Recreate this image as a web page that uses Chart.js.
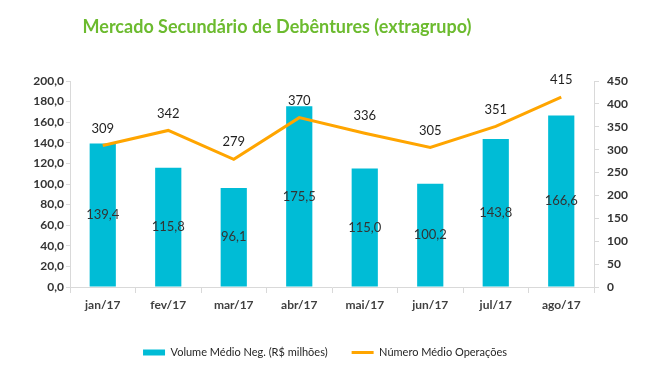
<!DOCTYPE html>
<html>
<head>
<meta charset="utf-8">
<script src="https://cdn.jsdelivr.net/npm/chart.js@4.4.0/dist/chart.umd.min.js"></script>
<style>
  body { margin: 0; background: #fff; }
  #wrap { position: relative; width: 650px; height: 371px; }
  #title {
    position: absolute; left: 0; top: 15px; width: 554px; text-align: center;
    font-family: Lato, "Open Sans", sans-serif; font-weight: bold; font-size: 18px;
    color: #6cbb2f; white-space: nowrap;
  }
</style>
</head>
<body>
<div id="wrap">
  <div id="title">Mercado Secundário de Debêntures (extragrupo)</div>
  <canvas id="chart" width="650" height="371"></canvas>
</div>
<script>
// ---------- DATA ----------
const months = ['jan/17', 'fev/17', 'mar/17', 'abr/17', 'mai/17', 'jun/17', 'jul/17', 'ago/17'];
const volume = [139.4, 115.8, 96.1, 175.5, 115.0, 100.2, 143.8, 166.6];
const operacoes = [309, 342, 279, 370, 336, 305, 351, 415];

const FONT = 'Lato, "Open Sans", sans-serif';
const comma = v => v.toFixed(1).replace('.', ',');

// value labels (no datalabels plugin offline)
const valueLabels = {
  id: 'valueLabels',
  afterDatasetsDraw(chart) {
    const ctx = chart.ctx;
    ctx.save();
    ctx.textAlign = 'center';
    ctx.textBaseline = 'middle';

    const bars = chart.getDatasetMeta(0).data;
    ctx.font = '13px ' + FONT;
    ctx.fillStyle = '#333333';
    bars.forEach((bar, i) => {
      ctx.fillText(comma(volume[i]), bar.x, (bar.y + bar.base) / 2);
    });

    const pts = chart.getDatasetMeta(1).data;
    ctx.fillStyle = '#1f1f1f';
    pts.forEach((p, i) => {
      ctx.fillText(String(operacoes[i]), p.x, p.y - 17);
    });
    ctx.restore();
  }
};

const axisGrey = '#d9d9d9';

new Chart(document.getElementById('chart'), {
  type: 'bar',
  data: {
    labels: months,
    datasets: [
      {
        label: 'Volume Médio Neg. (R$ milhões)',
        data: volume,
        backgroundColor: '#00bcd6',
        borderWidth: 0,
        yAxisID: 'y',
        order: 1,
        pointStyle: 'rect',
        categoryPercentage: 1,
        barPercentage: 0.4
      },
      {
        type: 'line',
        label: 'Número Médio Operações',
        data: operacoes,
        borderColor: '#ffa500',
        backgroundColor: '#ffa500',
        borderWidth: 3,
        pointRadius: 0,
        pointStyle: 'line',
        tension: 0,
        yAxisID: 'y1',
        order: 0
      }
    ]
  },
  options: {
    responsive: false,
    animation: false,
    layout: { padding: { top: 81, bottom: 3, left: 0, right: 0 } },
    plugins: {
      tooltip: { enabled: false },
      legend: {
        position: 'bottom',
        labels: {
          usePointStyle: true,
          pointStyleWidth: 22,
          boxHeight: 6,
          padding: 24,
          color: '#262626',
          font: { family: FONT, size: 11 },
          sort: (a, b) => a.datasetIndex - b.datasetIndex
        }
      }
    },
    scales: {
      x: {
        grid: { drawOnChartArea: false, color: axisGrey, tickLength: 6, offset: true },
        border: { color: axisGrey },
        ticks: { color: '#404040', padding: 5, font: { family: FONT, size: 12, weight: 'bold' } },
        afterFit: s => { s.height = 36; }
      },
      y: {
        position: 'left',
        min: 0, max: 200,
        grid: { drawOnChartArea: false, color: axisGrey, tickLength: 4 },
        border: { color: axisGrey },
        ticks: {
          stepSize: 20, padding: 2, color: '#333333',
          font: { family: FONT, size: 12, weight: 'bold' },
          callback: v => comma(v)
        },
        afterFit: s => { s.width = 70; }
      },
      y1: {
        position: 'right',
        min: 0, max: 450,
        grid: { drawOnChartArea: false, color: axisGrey, tickLength: 5 },
        border: { color: axisGrey },
        ticks: {
          stepSize: 50, padding: 8, color: '#333333',
          font: { family: FONT, size: 12, weight: 'bold' }
        },
        afterFit: s => { s.width = 56; }
      }
    }
  },
  plugins: [valueLabels]
});
</script>
</body>
</html>
